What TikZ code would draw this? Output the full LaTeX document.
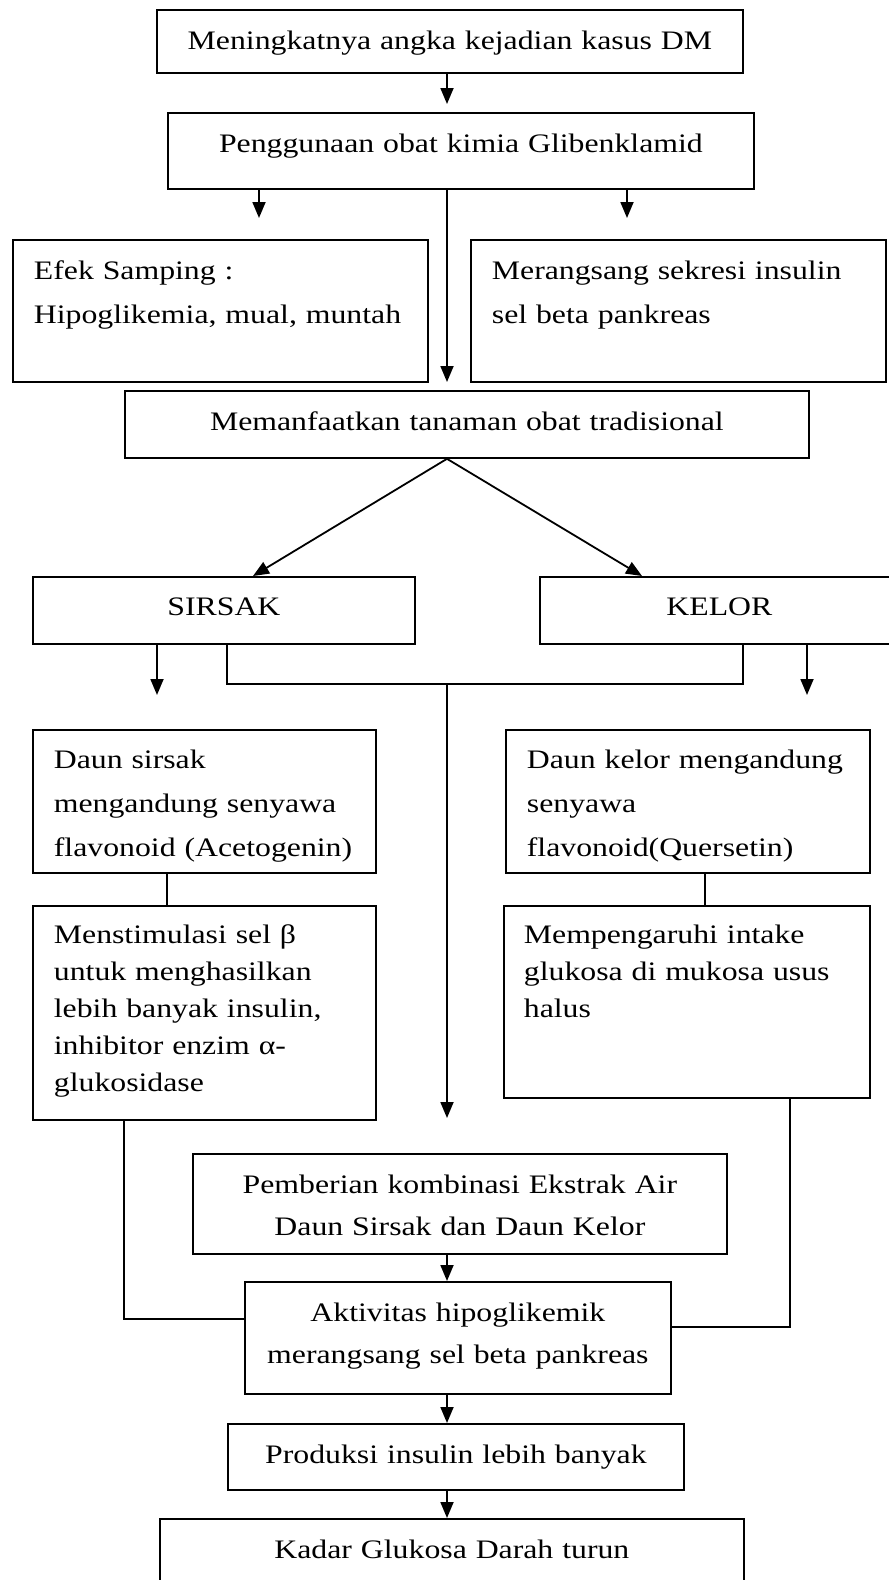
\documentclass[tikz,border=0pt]{standalone}
\usepackage{fontspec}
\setmainfont{Liberation Serif}[FakeStretch=1.19]
\usetikzlibrary{arrows.meta,calc}

\begin{document}
\begin{tikzpicture}[x=1pt,y=-1pt,
  cbox/.style={draw,line width=1.8pt,anchor=north west,inner xsep=0pt,inner ysep=0pt,align=center},
  lbox/.style={draw,line width=1.8pt,anchor=north west,inner xsep=21pt,inner ysep=0pt,align=left},
  wide/.style={font=\fontsize{26.7}{44}\selectfont},
  tight/.style={font=\fontsize{26.7}{37}\selectfont},
  mid/.style={font=\fontsize{26.7}{42}\selectfont},
  line/.style={line width=1.6pt},
  arrow/.style={line width=1.8pt,-{Triangle[length=16pt,width=13pt]}}
]
\path[use as bounding box,clip] (0,0) rectangle (889,1580);
\node[cbox,wide,text width=586pt,text height=40pt,text depth=23pt] (dm) at (156,9) {Meningkatnya angka kejadian kasus DM};
\node[cbox,wide,text width=586pt,text height=40pt,text depth=36pt] (glib) at (167,112) {Penggunaan obat kimia Glibenklamid};
\node[lbox,wide,text width=373pt,text height=40pt,text depth=102pt] (efek) at (12,239) {Efek Samping :\\Hipoglikemia, mual, muntah};
\node[lbox,wide,text width=373pt,text height=40pt,text depth=102pt] (rangsang) at (470,239) {Merangsang sekresi insulin\\sel beta pankreas};
\node[cbox,wide,text width=684pt,text height=40pt,text depth=27pt] (tradisi) at (124,390) {Memanfaatkan tanaman obat tradisional};
\node[cbox,wide,text width=382pt,text height=39pt,text depth=28pt] (sirsak) at (32,576) {SIRSAK};
\node[cbox,wide,text width=359pt,text height=39pt,text depth=28pt] (kelor) at (539,576) {KELOR};
\node[lbox,wide,text width=301pt,text height=39pt,text depth=104pt] (daunS) at (32,729) {Daun sirsak\\mengandung senyawa\\flavonoid (Acetogenin)};
\node[lbox,wide,text width=322pt,text height=39pt,text depth=104pt] (daunK) at (505,729) {Daun kelor mengandung\\senyawa\\flavonoid(Quersetin)};
\node[lbox,tight,text width=301pt,text height=38pt,text depth=176pt] (stim) at (32,905) {Menstimulasi sel β\\untuk menghasilkan\\lebih banyak insulin,\\inhibitor enzim α-\\glukosidase};
\node[lbox,tight,inner xsep=20pt,text width=326pt,text height=38pt,text depth=154pt] (pengaruh) at (503,905) {Mempengaruhi intake\\glukosa di mukosa usus\\halus};
\node[cbox,mid,text width=534pt,text height=40pt,text depth=60pt] (kombinasi) at (192,1153) {Pemberian kombinasi Ekstrak Air\\Daun Sirsak dan Daun Kelor};
\node[cbox,mid,text width=426pt,text height=40pt,text depth=72pt] (aktiv) at (244,1281) {Aktivitas hipoglikemik\\merangsang sel beta pankreas};
\node[cbox,wide,text width=456pt,text height=40pt,text depth=26pt] (produksi) at (227,1423) {Produksi insulin lebih banyak};
\node[cbox,wide,text width=584pt,text height=40pt,text depth=34pt] (kadar) at (159,1518) {Kadar Glukosa Darah turun};
\coordinate (mid) at (447,684);
% top part
\draw[arrow,shorten >=8pt] (mid |- dm.south) -- (mid |- glib.north);
\draw[arrow,shorten >=21pt] ([xshift=92pt]glib.south west) -- ([xshift=247pt]efek.north west);
\draw[arrow,shorten >=21pt] ([xshift=460pt]glib.south west) -- ([xshift=157pt]rangsang.north west);
\draw[arrow,shorten >=8pt] (mid |- glib.south) -- (mid |- tradisi.north);
\draw[arrow] (mid |- tradisi.south) -- ([xshift=221pt]sirsak.north west);
\draw[arrow] (mid |- tradisi.south) -- ([xshift=103pt]kelor.north west);
% sirsak / kelor
\draw[arrow,shorten >=34pt] ([xshift=125pt]sirsak.south west) -- ([xshift=125pt]daunS.north west);
\draw[arrow,shorten >=34pt] ([xshift=268pt]kelor.south west) -- ([xshift=302pt]daunK.north west);
\draw[line] ([xshift=195pt]sirsak.south west) |- (mid) -| ([xshift=204pt]kelor.south west);
\draw[arrow,shorten >=35pt] (mid) -- (mid |- kombinasi.north);
\draw[line] ([xshift=135pt]daunS.south west) -- ([xshift=135pt]stim.north west);
\draw[line] ([xshift=200pt]daunK.south west) -- ([xshift=202pt]pengaruh.north west);
\draw[line] ([xshift=92pt]stim.south west) |- ([yshift=19pt]aktiv.west);
\draw[line] ([xshift=287pt]pengaruh.south west) |- ([yshift=11pt]aktiv.east);
% bottom part
\draw[arrow] (mid |- kombinasi.south) -- (mid |- aktiv.north);
\draw[arrow] (mid |- aktiv.south) -- (mid |- produksi.north);
\draw[arrow] (mid |- produksi.south) -- (mid |- kadar.north);
\end{tikzpicture}
\end{document}
